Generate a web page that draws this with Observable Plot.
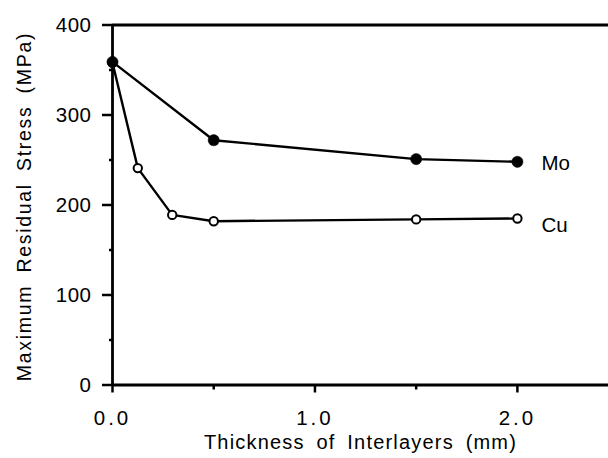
<!DOCTYPE html>
<html><head><meta charset="utf-8">
<script src="https://cdn.jsdelivr.net/npm/d3@7"></script>
<script src="https://cdn.jsdelivr.net/npm/@observablehq/plot@0.6"></script>
<style>body{margin:0;background:#fff}</style>
</head><body><div id="chart"></div>
<script>
const thicknessMo = [0, 0.5, 1.5, 2.0];
const stressMo = [359, 272, 251, 248];
const thicknessCu = [0, 0.125, 0.295, 0.5, 1.5, 2.0];
const stressCu = [358, 241, 189, 182, 184, 185];
const seriesNames = ["Mo", "Cu"];
const xTickMajor = [0, 1, 2];
const xTickMinor = [0.5, 1.5];
const yTickMajor = [0, 100, 200, 300, 400];
const yTickMinor = [50, 150, 250, 350];
const xLabel = "Thickness of Interlayers (mm)";
const yLabel = "Maximum Residual Stress (MPa)";

const mo = thicknessMo.map((x, i) => ({x, y: stressMo[i]}));
const cu = thicknessCu.map((x, i) => ({x, y: stressCu[i]}));
const font = "'Liberation Sans', Arial, Helvetica, sans-serif";

const chart = Plot.plot({
  width: 608, height: 458,
  marginLeft: 112, marginRight: 0, marginTop: 24.5, marginBottom: 73.5,
  style: {fontFamily: font, background: "#fff", color: "#000"},
  x: {domain: [0, 2.45]},
  y: {domain: [0, 400]},
  marks: [
    Plot.ruleY([0, 400], {stroke: "#000", strokeWidth: 2.8}),
    Plot.ruleX([0], {stroke: "#000", strokeWidth: 2.8}),
    Plot.axisY({ticks: yTickMajor, tickSize: 10, tickPadding: 11, tickFormat: d => String(d), fontSize: 20.5, strokeWidth: 2.5, label: null}),
    Plot.axisY({ticks: yTickMinor, tickSize: 3, tickFormat: () => "", strokeWidth: 2.5, label: null}),
    Plot.axisX({ticks: xTickMajor, tickSize: 8, tickPadding: 17, tickFormat: d3.format(".1f"), fontSize: 20.5, strokeWidth: 2.5, label: null}),
    Plot.axisX({ticks: xTickMinor, tickSize: 5, tickFormat: () => "", strokeWidth: 2.5, label: null}),
    Plot.line(mo, {x: "x", y: "y", stroke: "#000", strokeWidth: 2.4}),
    Plot.line(cu, {x: "x", y: "y", stroke: "#000", strokeWidth: 2.4}),
    Plot.dot(cu, {x: "x", y: "y", r: 4.2, fill: "#fff", stroke: "#000", strokeWidth: 2}),
    Plot.dot(mo, {x: "x", y: "y", r: 5.6, fill: "#000", stroke: "#000", strokeWidth: 0.5}),
    Plot.text([mo[mo.length - 1]], {x: "x", y: "y", text: () => seriesNames[0], dx: 24, dy: 2, textAnchor: "start", fontSize: 20.5}),
    Plot.text([cu[cu.length - 1]], {x: "x", y: "y", text: () => seriesNames[1], dx: 24, dy: 7, textAnchor: "start", fontSize: 20.5}),
    Plot.text([xLabel], {text: d => d, frameAnchor: "bottom", textAnchor: "middle", lineAnchor: "middle", dy: 58, fontSize: 20, className: "lblx"}),
    Plot.text([yLabel], {text: d => d, frameAnchor: "left", textAnchor: "middle", lineAnchor: "middle", dx: -88, dy: 1.5, rotate: -90, fontSize: 19.5, className: "lbly"})
  ]
});
document.getElementById("chart").append(chart);
d3.select(chart).selectAll(".lblx text").style("letter-spacing", "1.2px").style("word-spacing", "5px");
d3.select(chart).selectAll(".lbly text").style("letter-spacing", "1.7px").style("word-spacing", "5px");
d3.select(chart).selectAll("[aria-label='x-axis tick label'] text").style("letter-spacing", "3px");
d3.select(chart).selectAll("[aria-label='y-axis tick label'] text").style("letter-spacing", "0.5px");
</script>
</body></html>
